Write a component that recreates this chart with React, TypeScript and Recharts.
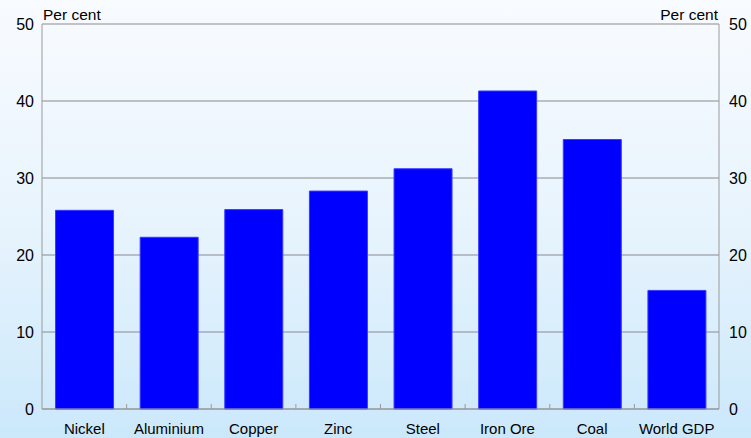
import React from 'react';
import { BarChart, Bar, Line, XAxis, YAxis, CartesianGrid } from 'recharts';

const categories = ['Nickel', 'Aluminium', 'Copper', 'Zinc', 'Steel', 'Iron Ore', 'Coal', 'World GDP'];
const shares = [25.8, 22.3, 25.9, 28.3, 31.2, 41.3, 35.0, 15.4];
const yTicks = [0, 10, 20, 30, 40, 50];

const data = categories.map((name, i) => ({ name, value: shares[i] }));

const font = 'Arial, "Liberation Sans", Helvetica, sans-serif';

const CategoryTick = (props: any) => {
  const { x, y, payload, index } = props;
  const half = payload && payload.offset ? payload.offset : 0;
  return (
    <g>
      {index > 0 && half > 0 && (
        <line x1={x - half} x2={x - half} y1={y} y2={y - 5} stroke="#9a9a9a" strokeWidth={1} />
      )}
      <text x={x} y={y + 25} textAnchor="middle" fontSize={15} fill="#000" fontFamily={font}>
        {payload.value}
      </text>
    </g>
  );
};

const App: React.FC = () => {
  return (
    <div
      style={{
        position: 'absolute',
        left: 0,
        top: 0,
        width: 751,
        height: 438,
        background: 'linear-gradient(to bottom, #f8fbff 0%, #e8f4fd 50%, #cbe8fb 100%)',
        fontFamily: font,
      }}
    >
      <div style={{ position: 'absolute', left: 43, top: 6, fontSize: 15.5, lineHeight: '18px' }}>Per cent</div>
      <div style={{ position: 'absolute', right: 33, top: 6, fontSize: 15.5, lineHeight: '18px' }}>Per cent</div>
      <BarChart
        width={751}
        height={438}
        data={data}
        margin={{ top: 24, right: 0, bottom: 0, left: 0 }}
        barCategoryGap="16%"
      >
        <CartesianGrid vertical={false} stroke="#8a8a8a" strokeWidth={1} yAxisId="left" />
        <XAxis
          dataKey="name"
          height={29}
          axisLine={{ stroke: '#9a9a9a' }}
          tickLine={false}
          tickSize={0}
          tickMargin={0}
          interval={0}
          tick={<CategoryTick />}
        />
        <YAxis
          yAxisId="left"
          width={42}
          domain={[0, 50]}
          ticks={yTicks}
          axisLine={{ stroke: '#9a9a9a' }}
          tickLine={false}
          tickSize={0}
          tickMargin={8}
          tick={{ fontSize: 16, fill: '#000', fontFamily: font }}
        />
        <YAxis
          yAxisId="right"
          orientation="right"
          width={32}
          domain={[0, 50]}
          ticks={yTicks}
          axisLine={{ stroke: '#9a9a9a' }}
          tickLine={false}
          tickSize={0}
          tickMargin={10}
          tick={{ fontSize: 16, fill: '#000', fontFamily: font }}
        />
        <Bar
          yAxisId="left"
          dataKey="value"
          fill="#0000ff"
          stroke="#3a3aff"
          strokeWidth={1}
          isAnimationActive={false}
        />
        <Line
          yAxisId="right"
          dataKey="value"
          stroke="none"
          dot={false}
          activeDot={false}
          legendType="none"
          isAnimationActive={false}
        />
      </BarChart>
    </div>
  );
};

export default App;
